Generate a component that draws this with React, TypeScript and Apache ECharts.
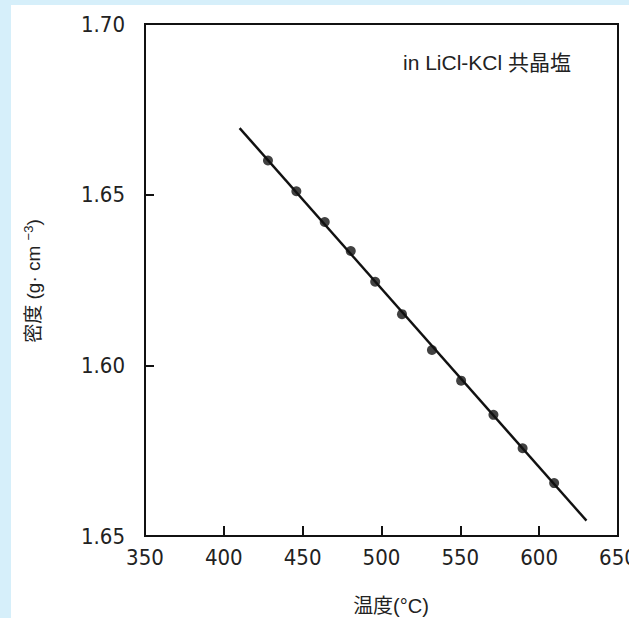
import React, { useEffect, useRef } from "react";
import * as echarts from "echarts";

const temperatures = [428, 446, 464, 480.5, 496, 513, 532, 550.5, 571, 589.5, 609.5];
const densities = [1.66, 1.651, 1.642, 1.6335, 1.6245, 1.615, 1.6045, 1.5955, 1.5855, 1.5757, 1.5655];
const fitTemps = [410, 630];
const fitDensities = [1.6695, 1.5545];
const yTickValues = [1.55, 1.6, 1.65, 1.7];
const yTickLabels = ["1.65", "1.60", "1.65", "1.70"];
const xName = "温度(°C)";
const yName = "密度 (g· cm {s|−3})";
const annotation = "in LiCl-KCl 共晶塩";

const NUM_FONT = "'Liberation Sans Narrow', 'Arial Narrow', 'DejaVu Sans Condensed', sans-serif";
const CJK_FONT = "'Liberation Sans', 'Noto Sans CJK JP', sans-serif";

export default function App() {
  const ref = useRef<HTMLDivElement>(null);
  useEffect(() => {
    if (!ref.current) return;
    const chart = echarts.init(ref.current, undefined, { renderer: "svg", width: 629, height: 618 });
    const option = {
      animation: false,
      backgroundColor: "#ffffff",
      grid: {
        left: 145,
        width: 473,
        top: 24,
        height: 512,
        outerBoundsMode: "none",
        containLabel: false,
        show: true,
        borderColor: "#111",
        borderWidth: 2,
      },
      xAxis: {
        type: "value",
        min: 350,
        max: 650,
        interval: 50,
        axisLine: { show: true, lineStyle: { color: "#111", width: 2 } },
        axisTick: { show: true, inside: true, length: 10, lineStyle: { color: "#111", width: 2 } },
        axisLabel: { color: "#222", fontSize: 22, fontFamily: NUM_FONT, margin: 10 },
        splitLine: { show: false },
      },
      yAxis: {
        type: "value",
        min: 1.55,
        max: 1.7,
        interval: 0.05,
        axisLine: { show: true, lineStyle: { color: "#111", width: 2 } },
        axisTick: { show: true, inside: true, length: 9, lineStyle: { color: "#111", width: 2 } },
        axisLabel: {
          color: "#222",
          fontSize: 22,
          fontFamily: NUM_FONT,
          margin: 20,
          formatter: (v: number) => {
            let best = 0;
            yTickValues.forEach((t, i) => {
              if (Math.abs(t - v) < Math.abs(yTickValues[best] - v)) best = i;
            });
            return yTickLabels[best];
          },
        },
        splitLine: { show: false },
      },
      series: [
        {
          type: "line",
          data: fitTemps.map((t, i) => [t, fitDensities[i]]),
          symbol: "none",
          lineStyle: { color: "#111", width: 2.4 },
          z: 2,
        },
        {
          type: "scatter",
          data: temperatures.map((t, i) => [t, densities[i]]),
          symbol: "circle",
          symbolSize: 10,
          itemStyle: { color: "#111" },
          z: 3,
        },
      ],
      graphic: [
        { type: "rect", shape: { x: 0, y: 0, width: 11, height: 618 }, style: { fill: "#d6effa" } },
        { type: "rect", shape: { x: 0, y: 0, width: 629, height: 5 }, style: { fill: "#d6effa" } },
        {
          type: "text",
          x: 391,
          y: 606,
          style: {
            text: xName,
            fontSize: 20,
            fontFamily: CJK_FONT,
            fill: "#222",
            align: "center",
            verticalAlign: "middle",
          },
        },
        {
          type: "text",
          x: 33,
          y: 281,
          rotation: Math.PI / 2,
          style: {
            text: yName,
            fontSize: 19,
            fontFamily: CJK_FONT,
            fill: "#222",
            align: "center",
            verticalAlign: "middle",
            lineHeight: 22,
            rich: {
              s: { fontSize: 13, fontFamily: CJK_FONT, fill: "#222", verticalAlign: "top", lineHeight: 14 },
            },
          },
        },
        {
          type: "text",
          x: 403,
          y: 62,
          style: {
            text: annotation,
            fontSize: 21,
            fontFamily: CJK_FONT,
            fill: "#222",
            align: "left",
            verticalAlign: "middle",
          },
        },
      ],
    };
    chart.setOption(option as any);
    return () => chart.dispose();
  }, []);
  return (
    <div style={{ position: "fixed", left: 0, top: 0, width: 629, height: 618 }}>
      <div ref={ref} style={{ width: 629, height: 618 }} />
    </div>
  );
}
